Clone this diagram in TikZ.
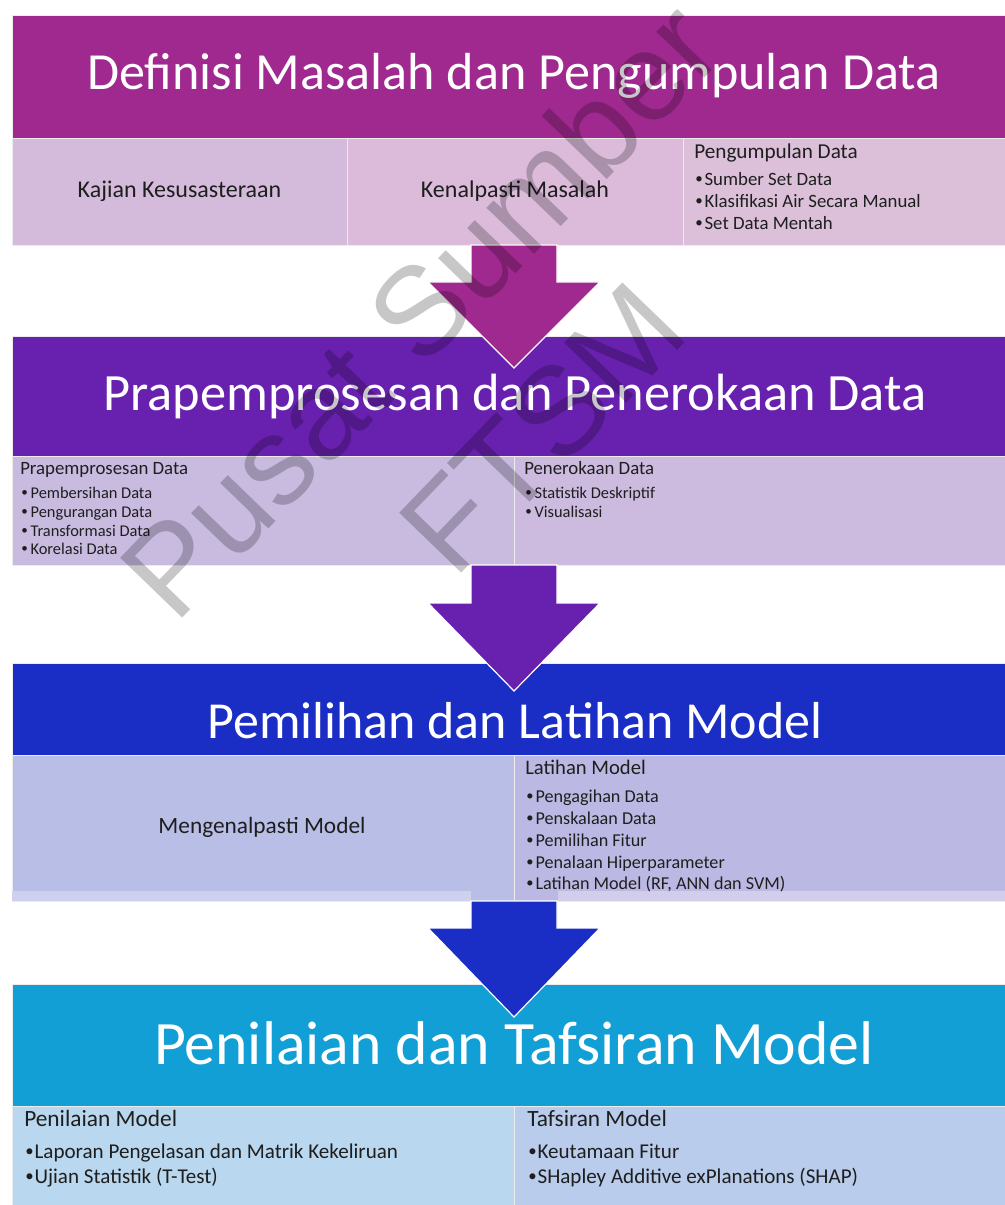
\documentclass[tikz,border=0pt]{standalone}
\usepackage{graphicx}
\usepackage{fontspec}
\setmainfont{Carlito}
\newfontfamily\wmfont{Liberation Sans}
\usetikzlibrary{calc,fit}
\definecolor{hA}{HTML}{A0298F}
\definecolor{hB}{HTML}{6820AE}
\definecolor{hC}{HTML}{1A2DC4}
\definecolor{hD}{HTML}{119FD6}
\definecolor{cA1}{HTML}{D5BBDB}
\definecolor{cA2}{HTML}{DBBADA}
\definecolor{cA3}{HTML}{DCC0D9}
\definecolor{cB1}{HTML}{C9BBE0}
\definecolor{cB2}{HTML}{CDBADF}
\definecolor{cC1}{HTML}{B9BEE6}
\definecolor{cC2}{HTML}{BBB9E3}
\definecolor{cC1s}{HTML}{CDD1EE}
\definecolor{cC2s}{HTML}{D2CDEB}
\definecolor{cD1}{HTML}{B9D7EE}
\definecolor{cD2}{HTML}{B9CCEC}
\definecolor{ink}{HTML}{1E1E1E}
\newcommand{\bul}[1]{\makebox[7pt][l]{\raisebox{0.08em}{\scalebox{0.8}{\textbullet}}}#1}
\begin{document}
\begin{tikzpicture}[x=0.75pt,y=-0.75pt,
  box/.style={inner sep=0pt, outer sep=0pt, draw=white!85!gray, line width=0.6pt},
  hdr/.style={box, text=white},
  ttl/.style={text=white, inner sep=0pt},
  sub/.style={font=\fontsize{18}{20}\selectfont, text=ink, inner sep=0pt},
  headA/.style={font=\fontsize{15.9}{18}\selectfont, text=ink, inner sep=0pt, anchor=mid west},
  itemA/.style={font=\fontsize{14.1}{16}\selectfont, text=ink, inner sep=0pt, anchor=mid west},
  headB/.style={font=\fontsize{14.1}{16}\selectfont, text=ink, inner sep=0pt, anchor=mid west},
  itemB/.style={font=\fontsize{12.3}{14}\selectfont, text=ink, inner sep=0pt, anchor=mid west},
  headC/.style={font=\fontsize{15.5}{17}\selectfont, text=ink, inner sep=0pt, anchor=mid west},
  itemC/.style={font=\fontsize{13.6}{15}\selectfont, text=ink, inner sep=0pt, anchor=mid west},
  headD/.style={font=\fontsize{17.5}{19}\selectfont, text=ink, inner sep=0pt, anchor=mid west},
  itemD/.style={font=\fontsize{15.8}{18}\selectfont, text=ink, inner sep=0pt, anchor=mid west},
  blk/.style={draw=white, line width=0.9pt, line join=miter}
]
\useasboundingbox (0,0) rectangle (1005,1205);
\fill[white] (0,0) rectangle (1005,1205);

% ---------- section 1 ----------
\node[hdr, fill=hA, fit={(12,15)(1005,138)}] (h1) {};
\node[box, fill=cA1, fit={(12,138)(347,245)}] (c11) {};
\node[box, fill=cA2, fit={(347,138)(683,245)}] (c12) {};
\node[box, fill=cA3, fit={(683,138)(1005,245)}] (c13) {};
\node[sub] (k11) at (c11.center) {Kajian Kesusasteraan};
\node[sub] (k12) at (c12.center) {Kenalpasti Masalah};
\node[headA] (k13) at (694,155) {Pengumpulan Data};
\node[itemA] (k13a) at (695,182) {\bul{Sumber Set Data}};
\node[itemA] (k13b) at (695,204) {\bul{Klasifikasi Air Secara Manual}};
\node[itemA] (k13c) at (695,226) {\bul{Set Data Mentah}};

% ---------- section 2 ----------
\node[hdr, fill=hB, fit={(12,336)(1005,456)}] (h2) {};
\node[box, fill=cB1, fit={(12,456)(514,565)}] (c21) {};
\node[box, fill=cB2, fit={(514,456)(1005,565)}] (c22) {};
\node[headB] (k21) at (20,471) {Prapemprosesan Data};
\node[itemB] (k21a) at (21,495) {\bul{Pembersihan Data}};
\node[itemB] (k21b) at (21,514) {\bul{Pengurangan Data}};
\node[itemB] (k21c) at (21,533) {\bul{Transformasi Data}};
\node[itemB] (k21d) at (21,551) {\bul{Korelasi Data}};
\node[headB] (k22) at (524,471) {Penerokaan Data};
\node[itemB] (k22a) at (525,495) {\bul{Statistik Deskriptif}};
\node[itemB] (k22b) at (525,514) {\bul{Visualisasi}};

% ---------- section 3 ----------
\node[hdr, fill=hC, fit={(12,663)(1005,755)}] (h3) {};
\node[box, fill=cC1, fit={(12,755)(514,901)}] (c31) {};
\node[box, fill=cC2, fit={(514,755)(1005,901)}] (c32) {};
\fill[cC1s] (12,891) rectangle (471,901);
\fill[cC2s] (558,891) rectangle (1005,901);
\node[sub, font=\fontsize{17.5}{19}\selectfont] (k31) at (262,827) {Mengenalpasti Model};
\node[headC] (k32) at (525,771) {Latihan Model};
\node[itemC] (k32a) at (526,799) {\bul{Pengagihan Data}};
\node[itemC] (k32b) at (526,821) {\bul{Penskalaan Data}};
\node[itemC] (k32c) at (526,843) {\bul{Pemilihan Fitur}};
\node[itemC] (k32d) at (526,865) {\bul{Penalaan Hiperparameter}};
\node[itemC] (k32e) at (526,886) {\bul{Latihan Model (RF, ANN dan SVM)}};

% ---------- section 4 ----------
\node[hdr, fill=hD, fit={(12,984)(1005,1106)}] (h4) {};
\node[box, fill=cD1, fit={(12,1106)(514,1205)}] (c41) {};
\node[box, fill=cD2, fit={(514,1106)(1005,1205)}] (c42) {};
\node[headD] (k41) at (24,1123) {Penilaian Model};
\node[itemD] (k41a) at (25,1155) {\bul{Laporan Pengelasan dan Matrik Kekeliruan}};
\node[itemD] (k41b) at (25,1180) {\bul{Ujian Statistik (T-Test)}};
\node[headD] (k42) at (527,1123) {Tafsiran Model};
\node[itemD] (k42a) at (528,1155) {\bul{Keutamaan Fitur}};
\node[itemD] (k42b) at (528,1180) {\bul{SHapley Additive exPlanations (SHAP)}};

% ---------- block arrows ----------
\coordinate (a1) at (514,245);
\coordinate (a2) at (514,565);
\coordinate (a3) at (514,901);
\fill[hA, blk] ($(a1)+(-43,0)$) -- ($(a1)+(43,0)$) -- ($(a1)+(43,37)$) -- ($(a1)+(86,37)$) -- ($(a1)+(0,123)$) -- ($(a1)+(-86,37)$) -- ($(a1)+(-43,37)$) -- cycle;
\fill[hB, blk] ($(a2)+(-43,0)$) -- ($(a2)+(43,0)$) -- ($(a2)+(43,38)$) -- ($(a2)+(86,38)$) -- ($(a2)+(0,126)$) -- ($(a2)+(-86,38)$) -- ($(a2)+(-43,38)$) -- cycle;
\fill[hC, blk] ($(a3)+(-43,0)$) -- ($(a3)+(43,0)$) -- ($(a3)+(43,27)$) -- ($(a3)+(86,27)$) -- ($(a3)+(0,116)$) -- ($(a3)+(-86,27)$) -- ($(a3)+(-43,27)$) -- cycle;

% ---------- titles ----------
\node[ttl, font=\fontsize{39.1}{41}\selectfont] (t1) at (514,76) {Definisi Masalah dan Pengumpulan Data};
\node[ttl, font=\fontsize{39.3}{41}\selectfont] (t2) at (515,397) {Prapemprosesan dan Penerokaan Data};
\node[ttl, font=\fontsize{39}{41}\selectfont] (t3) at (515,721) {Pemilihan dan Latihan Model};
\node[ttl, font=\fontsize{46.3}{48}\selectfont] (t4) at (514,1043) {Penilaian dan Tafsiran Model};

% ---------- watermark ----------
\node[rotate=46, align=center, text=black, text opacity=0.22, font=\wmfont\fontsize{94}{127}\selectfont] (wm) at (480,368) {Pusat Sumber\\FTSM};
\end{tikzpicture}
\end{document}
